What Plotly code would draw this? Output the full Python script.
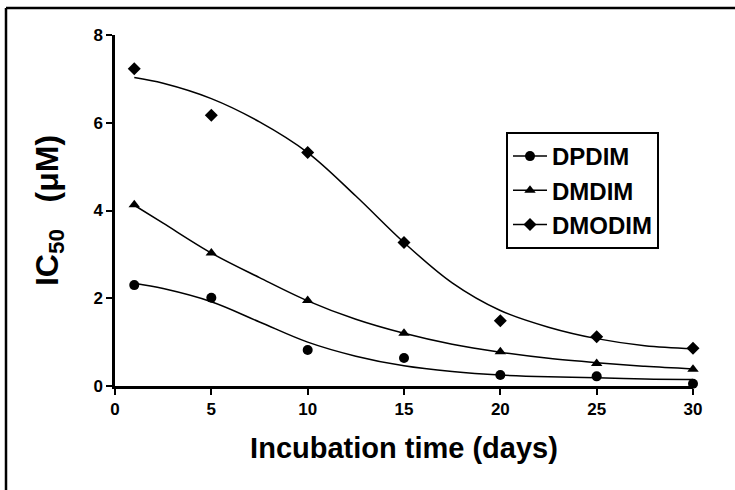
import plotly.graph_objects as go

# Measured data
days = [1, 5, 10, 15, 20, 25, 30]
dpdim = [2.30, 2.01, 0.82, 0.64, 0.25, 0.22, 0.05]
dmdim = [4.13, 3.03, 1.95, 1.20, 0.78, 0.51, 0.38]
dmodim = [7.23, 6.17, 5.32, 3.27, 1.49, 1.12, 0.86]

# Fitted curves
fit_days = [1, 2.5, 5, 7.5, 10, 12.5, 15, 17.5, 20, 22.5, 25, 27.5, 30]
fit_dpdim = [2.34, 2.22, 1.92, 1.46, 1.00, 0.68, 0.46, 0.33, 0.25, 0.21, 0.19, 0.16, 0.15]
fit_dmdim = [4.12, 3.71, 3.03, 2.47, 1.94, 1.52, 1.20, 0.95, 0.77, 0.63, 0.53, 0.45, 0.39]
fit_dmodim = [7.03, 6.90, 6.55, 6.02, 5.32, 4.33, 3.27, 2.35, 1.72, 1.34, 1.08, 0.92, 0.85]

x_ticks = [0, 5, 10, 15, 20, 25, 30]
y_ticks = [0, 2, 4, 6, 8]
names = ["DPDIM", "DMDIM", "DMODIM"]

series = [
    (names[0], dpdim, fit_dpdim, "circle", 10),
    (names[1], dmdim, fit_dmdim, "triangle-up", 10),
    (names[2], dmodim, fit_dmodim, "diamond", 10),
]

FONT = "Liberation Sans, Arial, sans-serif"

fig = go.Figure()
for name, vals, fit, sym, sz in series:
    fig.add_trace(go.Scatter(x=fit_days, y=fit, mode="lines",
                             line=dict(color="black", width=1.5, shape="spline", smoothing=1.0),
                             showlegend=False, hoverinfo="skip", cliponaxis=False))
    fig.add_trace(go.Scatter(x=days, y=vals, mode="markers",
                             marker=dict(symbol=sym, size=sz, color="black"),
                             showlegend=False, cliponaxis=False))
for name, vals, fit, sym, sz in series:
    fig.add_trace(go.Scatter(x=[None], y=[None], mode="lines+markers", name="<b>%s</b>" % name,
                             line=dict(color="black", width=1.5),
                             marker=dict(symbol=sym, size=sz, color="black")))

L, R, T, B = 115, 42, 35, 104
plot_w = 735 - L - R
plot_h = 490 - T - B

fig.update_layout(
    width=735, height=490,
    margin=dict(l=L, r=R, t=T, b=B),
    paper_bgcolor="white", plot_bgcolor="white",
    font=dict(family=FONT, color="black"),
    showlegend=True,
    legend=dict(x=(506 - L) / plot_w, y=(490 - B - 132) / plot_h, xanchor="left", yanchor="top",
                bgcolor="white", bordercolor="black", borderwidth=2,
                font=dict(size=24, family=FONT, color="black"),
                itemwidth=34, tracegroupgap=0),
    xaxis=dict(range=[0, 30], tickvals=x_ticks, ticktext=["<b>%d</b>" % v for v in x_ticks],
               showline=True, linecolor="black", linewidth=2.5, ticks="outside", ticklen=6, tickwidth=2,
               tickcolor="black", showgrid=False, zeroline=False, automargin=False,
               tickfont=dict(size=17, family=FONT, color="black"),
               title=dict(text="<b>Incubation time (days)</b>", font=dict(size=29, family=FONT), standoff=20)),
    yaxis=dict(range=[0, 8], tickvals=y_ticks, ticktext=["<b>%d</b>" % v for v in y_ticks],
               showline=True, linecolor="black", linewidth=2.5, ticks="outside", ticklen=6, tickwidth=2,
               tickcolor="black", showgrid=False, zeroline=False, automargin=False,
               tickfont=dict(size=17, family=FONT, color="black"),
               title=dict(text="<b>IC<sub>50</sub>   (μM)</b>", font=dict(size=32, family=FONT), standoff=26)),
    shapes=[
        dict(type="line", xref="paper", yref="paper",
             x0=(6 - L) / plot_w, x1=(735 - L) / plot_w,
             y0=(490 - B - 8) / plot_h, y1=(490 - B - 8) / plot_h,
             line=dict(color="black", width=2.5)),
        dict(type="line", xref="paper", yref="paper",
             x0=(6 - L) / plot_w, x1=(6 - L) / plot_w,
             y0=(490 - B - 8) / plot_h, y1=-B / plot_h,
             line=dict(color="black", width=2.5)),
    ],
)

fig.write_html("out.html", config={"displayModeBar": False},
               post_script="document.body.style.margin='0';document.body.style.overflow='hidden';")
